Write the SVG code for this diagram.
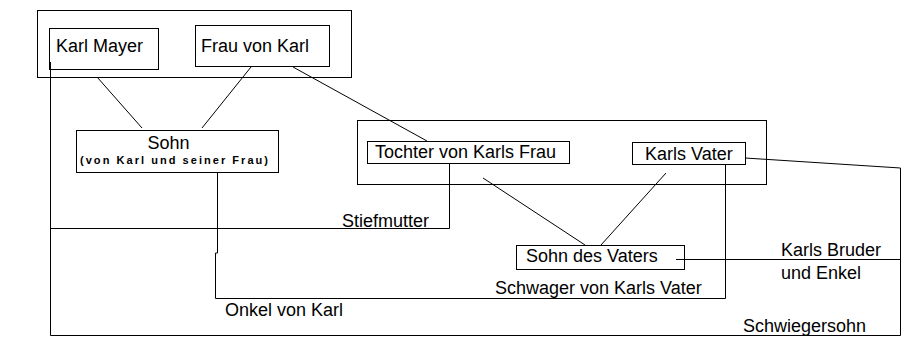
<svg xmlns="http://www.w3.org/2000/svg" width="912" height="348" viewBox="0 0 912 348">
<style>
rect{fill:none;stroke:#000;stroke-width:1}
.c{fill:none;stroke:#000;stroke-width:1}
text{font-family:"Liberation Sans",Arial,sans-serif;font-size:18px;fill:#000}
.s{font-size:11px;font-weight:bold}
</style>
<rect width="912" height="348" style="fill:#fff;stroke:none"/>
<g id="group-parents"><rect x="37.5" y="10.5" width="314" height="67"/></g>
<g id="group-stepfamily"><rect x="357.5" y="120.5" width="409" height="64"/></g>
<g id="connectors">
<line class="c" x1="97" y1="77" x2="142" y2="128"/>
<line class="c" x1="251" y1="67" x2="202" y2="128"/>
<line class="c" x1="293" y1="67" x2="427" y2="141"/>
<line class="c" x1="483" y1="178" x2="585" y2="245"/>
<line class="c" x1="666" y1="173" x2="601" y2="245"/>
<polyline class="c" points="745,158 900.5,168 900.5,335.5 50.5,335.5 50.5,62"/>
<polyline class="c" points="50.5,228.5 449.5,228.5 449.5,163"/>
<polyline class="c" points="217.5,172 217.5,253 215.5,253 215.5,298.5 725.5,298.5 725.5,164"/>
<line class="c" x1="676" y1="259.5" x2="900" y2="259.5"/>
<text x="342" y="227">Stiefmutter</text>
<text x="225" y="316">Onkel von Karl</text>
<text x="495" y="294">Schwager von Karls Vater</text>
<text x="781" y="256">Karls Bruder</text>
<text x="781" y="279">und Enkel</text>
<text x="743" y="332">Schwiegersohn</text>
</g>
<g id="karl-mayer"><rect x="49.5" y="28.5" width="109" height="41"/><text x="56" y="52">Karl Mayer</text></g>
<g id="frau-von-karl"><rect x="195.5" y="25.5" width="134" height="41"/><text x="201" y="52">Frau von Karl</text></g>
<g id="sohn"><rect x="76.5" y="130.5" width="202" height="42"/><text x="168.5" y="149" text-anchor="middle">Sohn</text><text class="s" x="80" y="164" textLength="188" lengthAdjust="spacing">(von Karl und seiner Frau)</text></g>
<g id="tochter"><rect x="367.5" y="141.5" width="202" height="22"/><text x="375" y="158">Tochter von Karls Frau</text></g>
<g id="karls-vater"><rect x="632.5" y="142.5" width="113" height="22"/><text x="645" y="160">Karls Vater</text></g>
<g id="sohn-des-vaters"><rect x="516.5" y="245.5" width="168" height="24"/><text x="526" y="262">Sohn des Vaters</text></g>
</svg>
